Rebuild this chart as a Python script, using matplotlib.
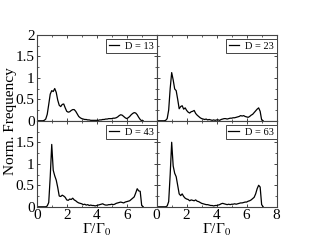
import numpy as np
import matplotlib
matplotlib.use('Agg')
import matplotlib.pyplot as plt
from matplotlib.ticker import MultipleLocator, FuncFormatter

plt.rcParams['font.family'] = ['Liberation Serif', 'DejaVu Serif']
plt.rcParams['mathtext.fontset'] = 'stix'

# Gamma/Gamma_0 bin centres 0.0 .. 7.1
gamma = np.round(np.arange(0, 72) * 0.1, 1)

labels = ['D = 13', 'D = 23', 'D = 43', 'D = 63']

freq_d13 = [0, 0, 0, 0, 0,
            0.01, 0.04, 0.15, 0.38, 0.62, 0.70, 0.68, 0.75, 0.66, 0.48,
            0.36, 0.33, 0.38, 0.39, 0.30, 0.22, 0.20, 0.21, 0.24, 0.26,
            0.26, 0.22, 0.16, 0.10, 0.07, 0.05, 0.04, 0.03, 0.03, 0.02,
            0.02, 0.01, 0.01, 0.01, 0.01, 0.01, 0.01, 0.02, 0.02, 0.03,
            0.03, 0.04, 0.04, 0.05, 0.05, 0.05, 0.06, 0.06, 0.07, 0.09,
            0.12, 0.14, 0.13, 0.10, 0.07, 0.05, 0.07, 0.10, 0.14, 0.17,
            0.19, 0.18, 0.14, 0.08, 0.03, 0.0, 0.0]

freq_d23 = [0, 0, 0, 0, 0, 0,
            0.01, 0.05, 0.25, 0.75, 1.12, 0.95, 0.74, 0.70, 0.50, 0.28,
            0.33, 0.35, 0.27, 0.30, 0.24, 0.20, 0.18, 0.21, 0.22, 0.24,
            0.17, 0.13, 0.10, 0.07, 0.05, 0.04, 0.03, 0.04, 0.02, 0.03,
            0.02, 0.01, 0.02, 0.01, 0.02, 0.02, 0.01, 0.03, 0.04, 0.05,
            0.05, 0.04, 0.05, 0.06, 0.06, 0.07, 0.07, 0.08, 0.09, 0.10,
            0.12, 0.11, 0.12, 0.10, 0.09, 0.08, 0.10, 0.13, 0.15, 0.19,
            0.23, 0.27, 0.30, 0.22, 0.02, 0.0]

freq_d43 = [0, 0, 0, 0, 0, 0, 0,
            0.02, 0.10, 0.70, 1.45, 0.85, 0.72, 0.62, 0.45, 0.25, 0.24,
            0.27, 0.25, 0.22, 0.16, 0.15, 0.18, 0.17, 0.20, 0.16, 0.14,
            0.11, 0.09, 0.08, 0.07, 0.05, 0.06, 0.04, 0.05, 0.03, 0.04,
            0.03, 0.03, 0.02, 0.03, 0.04, 0.05, 0.06, 0.07, 0.05, 0.04,
            0.04, 0.05, 0.05, 0.06, 0.05, 0.06, 0.08, 0.09, 0.10, 0.11,
            0.10, 0.09, 0.11, 0.12, 0.13, 0.14, 0.17, 0.20, 0.23, 0.32,
            0.42, 0.37, 0.36, 0.03, 0.0]

freq_d63 = [0, 0, 0, 0, 0, 0, 0,
            0.02, 0.12, 0.75, 1.50, 0.95, 0.78, 0.70, 0.50, 0.30, 0.26,
            0.30, 0.24, 0.20, 0.18, 0.17, 0.14, 0.16, 0.15, 0.14, 0.16,
            0.13, 0.12, 0.10, 0.08, 0.07, 0.06, 0.05, 0.05, 0.04, 0.03,
            0.03, 0.02, 0.03, 0.03, 0.04, 0.05, 0.07, 0.08, 0.07, 0.06,
            0.05, 0.06, 0.05, 0.06, 0.06, 0.07, 0.06, 0.07, 0.08, 0.09,
            0.09, 0.10, 0.11, 0.11, 0.13, 0.14, 0.16, 0.19, 0.22, 0.30,
            0.42, 0.50, 0.46, 0.05, 0.0]

series = [freq_d13, freq_d23, freq_d43, freq_d63]

fig = plt.figure(figsize=(3.14, 2.43), dpi=100)

left, w = 0.117, 0.382
bottom, h = 0.149, 0.354
pos = [(left, bottom + h), (left + w, bottom + h), (left, bottom), (left + w, bottom)]


def fmt_upto(limit):
    # hide the label at the shared edge
    return FuncFormatter(lambda v, p: '' if v >= limit - 1e-9 else '%g' % v)


spine_col = '#444444'
for i, (p, y, lab) in enumerate(zip(pos, series, labels)):
    ax = fig.add_axes([p[0], p[1], w, h])
    ax.plot(gamma, y, color='black', lw=0.9, label=lab)
    ax.set_xlim(0, 8)
    ax.set_ylim(0, 2)
    ax.xaxis.set_major_locator(MultipleLocator(2))
    ax.xaxis.set_minor_locator(MultipleLocator(1))
    ax.yaxis.set_major_locator(MultipleLocator(0.5))
    ax.yaxis.set_minor_locator(MultipleLocator(0.25))
    ax.xaxis.set_major_formatter(FuncFormatter(lambda v, p: '%g' % v))
    ax.yaxis.set_major_formatter(FuncFormatter(lambda v, p: '%g' % v))
    ax.tick_params(which='both', direction='in', top=True, right=True,
                   color=spine_col, labelsize=11, pad=1.5)
    ax.tick_params(which='major', length=2.3, width=0.7)
    ax.tick_params(which='minor', length=1.4, width=0.6)
    for s in ax.spines.values():
        s.set_color(spine_col)
        s.set_linewidth(0.8)

    # only outer panels carry labels
    if i in (0, 1):
        ax.tick_params(labelbottom=False)
    if i in (1, 3):
        ax.tick_params(labelleft=False)
    if i == 2:
        ax.xaxis.set_major_formatter(fmt_upto(8))
        ax.yaxis.set_major_formatter(fmt_upto(2))
    if i in (2, 3):
        ax.set_xlabel('Γ/Γ$_0$', fontsize=11, labelpad=0)

    leg = ax.legend(loc='upper right', bbox_to_anchor=(1.0, 0.955),
                    borderaxespad=0, fontsize=7.5, handlelength=1.0,
                    handletextpad=0.6, borderpad=0.25, fancybox=False,
                    framealpha=1)
    leg.get_frame().set_edgecolor(spine_col)
    leg.get_frame().set_linewidth(0.7)

fig.text(0.032, bottom + h, 'Norm. Frequency', rotation=90, ha='center',
         va='center', fontsize=11)

fig.savefig('out.png', dpi=100)
